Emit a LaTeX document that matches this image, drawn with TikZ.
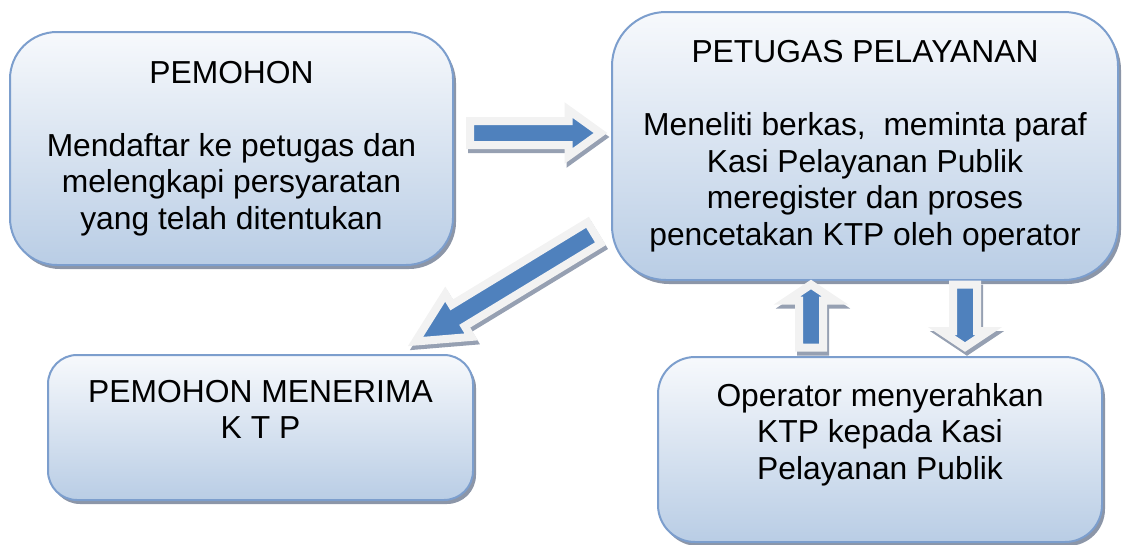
\documentclass[tikz,border=0pt]{standalone}
\usepackage{fontspec}
\setmainfont{Liberation Sans}
\usepackage{tikz}
\usetikzlibrary{calc}
\definecolor{boxrim}{RGB}{124,158,205}
\definecolor{boxtop}{RGB}{247,249,252}
\definecolor{boxbot}{RGB}{185,205,229}
\definecolor{boxshade}{RGB}{140,150,168}
\definecolor{arrowblue}{RGB}{79,129,189}
\definecolor{arrowrim}{RGB}{242,242,242}
\definecolor{arrowshade}{RGB}{150,160,178}
\tikzset{
  box/.style = {
    rectangle, draw=boxrim, line width=2pt,
    top color=boxtop, bottom color=boxbot,
    align=center, inner sep=0pt,
    font=\fontsize{31.8}{36.5}\selectfont,
    preaction={fill=boxshade, transform canvas={xshift=3pt, yshift=-4pt}}
  },
  blk/.style = {
    fill=arrowblue, draw=arrowrim, line width=8pt, line join=miter,
    preaction={fill=arrowshade, draw=arrowshade, line width=8pt, line join=miter,
      transform canvas={xshift=2pt, yshift=-4pt}}
  }
}

\begin{document}
\begin{tikzpicture}[x=1pt, y=-1pt]
\useasboundingbox (0,0) rectangle (1141,544);

%% boxes
\node[box, minimum width=443pt, minimum height=233pt, rounded corners=47pt]
      (b1) at (231.5,148.5)
      {PEMOHON\\~\\Mendaftar ke petugas dan\\melengkapi persyaratan\\yang telah ditentukan};
\node[box, minimum width=506pt, minimum height=268pt, rounded corners=54pt]
      (b2) at (865,146)
      {PETUGAS PELAYANAN\\~\\Meneliti berkas,~ meminta paraf\\Kasi Pelayanan Publik\\meregister dan proses\\pencetakan KTP oleh operator};
\node[box, minimum width=425pt, minimum height=145pt, rounded corners=29pt]
      (b3) at (260.5,427.5)
      {PEMOHON MENERIMA\\K T P\\~};
\node[box, minimum width=444pt, minimum height=185pt, rounded corners=37pt]
      (b4) at (880,449.5)
      {Operator menyerahkan\\KTP kepada Kasi\\Pelayanan Publik\\~};

%% arrow ends (tail t, tip h)
\coordinate (t1) at ($(b1.east)+(16,-15.5)$);
\coordinate (h1) at ($(b2.west)+(-10.5,-13)$);
\coordinate (t2) at ($(b2.west)+(-17,87)$);
\coordinate (h2) at ($(b3.north east)+(-58.5,-12.5)$);
\coordinate (t3) at ($(b4.north)+(-69,-8.5)$);
\coordinate (h3) at ($(b2.south)+(-54,3.5)$);
\coordinate (t4) at ($(b2.south)+(100,3.5)$);
\coordinate (h4) at ($(b4.north)+(85,-9)$);

%% block arrows
\foreach \t/\h/\hs/\hh/\hl in {t1/h1/12pt/23pt/32pt, t2/h2/12.5pt/25pt/50pt,
                              t3/h3/12pt/24pt/16pt, t4/h4/12pt/24pt/16pt} {
  \path ($(\h)!\hl!(\t)$) coordinate (hb);
  \draw[blk] ($(\t)!\hs!90:(\h)$) -- ($(hb)!\hs!90:(\h)$) -- ($(hb)!\hh!90:(\h)$)
    -- (\h) -- ($(hb)!\hh!-90:(\h)$) -- ($(hb)!\hs!-90:(\h)$)
    -- ($(\t)!\hs!-90:(\h)$) -- cycle;
}

\end{tikzpicture}
\end{document}
